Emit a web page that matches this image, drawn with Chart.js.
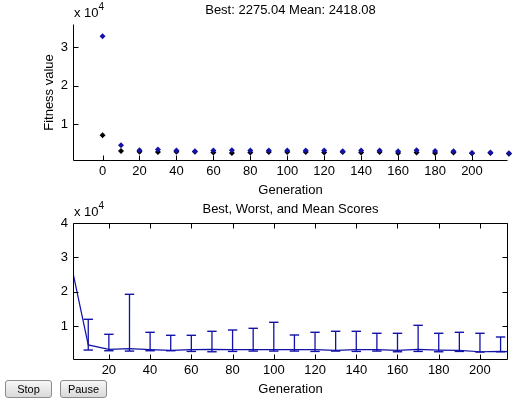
<!DOCTYPE html>
<html>
<head>
<meta charset="utf-8">
<script src="https://cdn.jsdelivr.net/npm/chart.js@4.4.1/dist/chart.umd.min.js"></script>
<style>
  body { margin: 0; background: #fff; width: 517px; height: 400px; overflow: hidden; position: relative; }
  canvas.plot { position: absolute; left: 0; width: 517px; height: 200px; }
  #bestChart { top: 0; }
  #rangeChart { top: 199px; }
  button {
    position: absolute; top: 380px; width: 47px; height: 18px; padding: 0;
    font: 11px "Liberation Sans", Arial, sans-serif; color: #000;
    background: linear-gradient(#f7f7f7, #d9d9d9);
    border: 1px solid #8c8c8c; border-radius: 3px; z-index: 2;
  }
  #stop { left: 5px; }
  #pause { left: 60px; }
</style>
</head>
<body>
<canvas id="bestChart" class="plot" width="517" height="200"></canvas>
<canvas id="rangeChart" class="plot" width="517" height="200"></canvas>
<button id="stop">Stop</button>
<button id="pause">Pause</button>
<script>
// data (every 10th generation)
const generations = [0, 10, 20, 30, 40, 50, 60, 70, 80, 90, 100, 110, 120, 130, 140, 150, 160, 170, 180, 190, 200, 210, 220];
const meanScores = [32800, 4500, 3200, 3400, 3100, 2900, 3100, 3200, 3100, 3100, 3100, 3100, 3100, 2900, 3100, 3100, 2900, 3200, 3000, 2900, 2500, 2600, 2418];
const bestScores = [7100, 3000, 2800, 2700, 2800, 2800, 2600, 2500, 2600, 2700, 2700, 2700, 2600, 2700, 2600, 2700, 2500, 2600, 2500, 2600, 2400, 2500, 2275];
// worst score is off-screen for the first and last generation
const worstScores = [null, 11950, 7580, 19230, 8170, 7290, 7290, 8460, 8840, 9330, 11080, 7380, 8170, 8460, 8460, 7880, 7880, 10200, 7880, 8170, 7880, 6800, null];

const bestTicksX = [0, 20, 40, 60, 80, 100, 120, 140, 160, 180, 200];
const rangeTicksX = [20, 40, 60, 80, 100, 120, 140, 160, 180, 200];
const bestTicksY = [10000, 20000, 30000];
const rangeTicksY = [10000, 20000, 30000, 40000];

const FONT = '"Liberation Sans", Arial, sans-serif';
const BLUE = '#1212a8';

// matlab style frame: inward ticks, titles, "x 10^4"
const matlabAxes = {
  id: 'matlabAxes',
  afterDraw(chart, args, opts) {
    const { ctx, chartArea: a, scales: { x, y } } = chart;
    const L = Math.round(a.left) + 0.5, R = Math.round(a.right) - 0.5;
    const T = Math.round(a.top) + 0.5, B = Math.round(a.bottom) - 0.5;
    ctx.save();
    ctx.strokeStyle = '#000';
    ctx.lineWidth = 1;
    ctx.beginPath();
    ctx.moveTo(L, T); ctx.lineTo(L, B); ctx.lineTo(R, B);
    if (opts.box) { ctx.lineTo(R, T); ctx.lineTo(L, T); }
    x.ticks.forEach((t) => {
      const p = Math.round(x.getPixelForValue(t.value)) + 0.5;
      ctx.moveTo(p, B); ctx.lineTo(p, B - 5);
      if (opts.box) { ctx.moveTo(p, T); ctx.lineTo(p, T + 5); }
    });
    y.ticks.forEach((t) => {
      const p = Math.round(y.getPixelForValue(t.value)) + 0.5;
      ctx.moveTo(L, p); ctx.lineTo(L + 5, p);
      if (opts.box) { ctx.moveTo(R, p); ctx.lineTo(R - 5, p); }
    });
    ctx.stroke();

    const cx = (a.left + a.right) / 2;
    ctx.fillStyle = '#000';
    ctx.font = '13px ' + FONT;
    ctx.textAlign = 'center';
    ctx.textBaseline = 'alphabetic';
    ctx.fillText(opts.title, cx, 14);
    ctx.fillText(opts.xLabel, cx, 194);
    if (opts.yLabel) {
      ctx.save();
      ctx.translate(52.5, (a.top + a.bottom) / 2);
      ctx.rotate(-Math.PI / 2);
      ctx.fillText(opts.yLabel, 0, 0);
      ctx.restore();
    }
    ctx.textAlign = 'left';
    ctx.fillText('x 10', 74, 17);
    ctx.font = '10px ' + FONT;
    ctx.fillText('4', 98.5, 10);
    ctx.restore();
  }
};

function axes(xMin, xMax, xTicks, yMin, yMax, yTicks) {
  return {
    x: {
      type: 'linear', min: xMin, max: xMax,
      grid: { display: false, drawTicks: false },
      border: { display: false },
      afterBuildTicks: (s) => { s.ticks = xTicks.map((v) => ({ value: v })); },
      afterFit: (s) => { s.height = 39; },
      ticks: { padding: 3, maxRotation: 0, autoSkip: false, color: '#000', font: { family: FONT, size: 13 } }
    },
    y: {
      type: 'linear', min: yMin, max: yMax,
      grid: { display: false, drawTicks: false },
      border: { display: false },
      afterBuildTicks: (s) => { s.ticks = yTicks.map((v) => ({ value: v })); },
      afterFit: (s) => { s.width = 73; },
      ticks: { padding: 5, color: '#000', font: { family: FONT, size: 13 }, callback: (v) => String(v / 10000) }
    }
  };
}

const common = {
  responsive: false,
  animation: false,
  layout: { padding: { top: 24, right: 9, left: 0, bottom: 0 } },
  plugins: { legend: { display: false }, tooltip: { enabled: false } }
};

// top: best and mean fitness
new Chart(document.getElementById('bestChart'), {
  type: 'scatter',
  data: {
    datasets: [
      {
        label: 'Mean fitness',
        data: generations.map((g, i) => ({ x: g, y: meanScores[i] })),
        pointStyle: 'rectRot', pointRadius: 3,
        backgroundColor: BLUE, borderColor: BLUE, borderWidth: 0,
        clip: false
      },
      {
        label: 'Best fitness',
        data: generations.map((g, i) => ({ x: g, y: bestScores[i] })),
        pointStyle: 'rectRot', pointRadius: 3,
        backgroundColor: '#000', borderColor: '#000', borderWidth: 0,
        clip: false
      }
    ]
  },
  options: {
    ...common,
    scales: axes(-16, 219.5, bestTicksX, 390, 36000, bestTicksY),
    plugins: {
      ...common.plugins,
      matlabAxes: { box: false, title: 'Best: 2275.04 Mean: 2418.08', xLabel: 'Generation', yLabel: 'Fitness value' }
    }
  },
  plugins: [matlabAxes]
});

// bottom: range of scores, best..worst bars with mean line
const rangePoints = [];
generations.forEach((g, i) => {
  if (worstScores[i] === null) return;
  rangePoints.push({ x: g, y: bestScores[i] }, { x: g, y: worstScores[i] }, { x: g, y: null });
});

new Chart(document.getElementById('rangeChart'), {
  type: 'scatter',
  data: {
    datasets: [
      {
        label: 'Mean',
        data: generations.map((g, i) => ({ x: g, y: meanScores[i] })),
        showLine: true, pointRadius: 0,
        borderColor: BLUE, borderWidth: 1.2,
        clip: 0
      },
      {
        label: 'Range',
        data: rangePoints,
        showLine: true, spanGaps: false,
        pointStyle: 'line', pointRadius: 4.7,
        pointBorderColor: BLUE, pointBorderWidth: 1.4,
        borderColor: BLUE, borderWidth: 1.3,
        clip: 0
      }
    ]
  },
  options: {
    ...common,
    scales: axes(2.6, 213.6, rangeTicksX, 100, 40000, rangeTicksY),
    plugins: {
      ...common.plugins,
      matlabAxes: { box: true, title: 'Best, Worst, and Mean Scores', xLabel: 'Generation' }
    }
  },
  plugins: [matlabAxes]
});
</script>
</body>
</html>
